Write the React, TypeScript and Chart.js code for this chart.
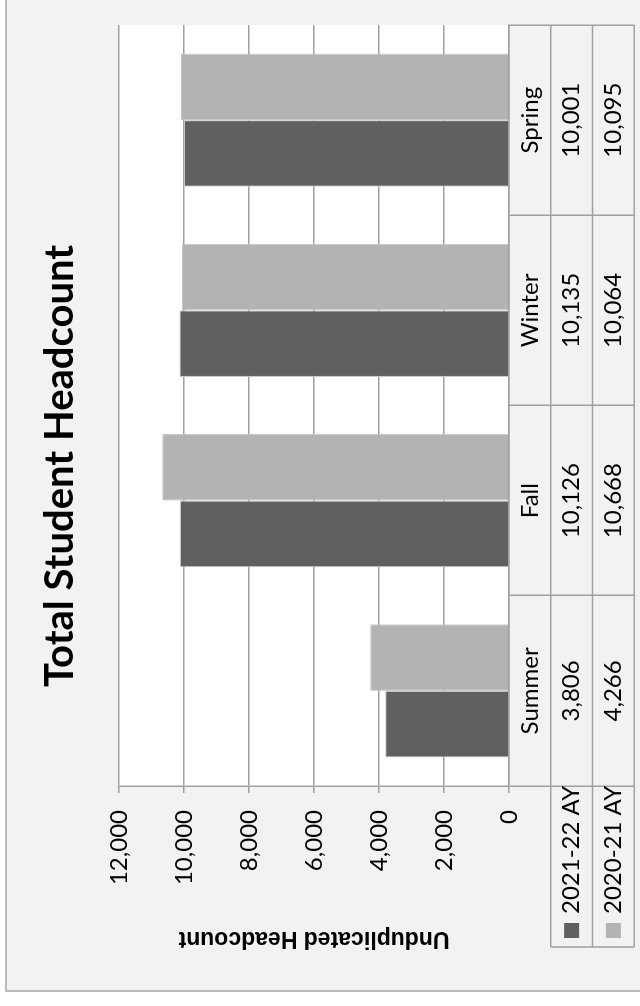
import React, { useEffect, useRef } from 'react';
import { Chart, registerables } from 'chart.js';

Chart.register(...registerables);

// ---- data ----
const CATEGORIES = ['Summer', 'Fall', 'Winter', 'Spring'];
const SERIES_NAMES = ['2021-22 AY', '2020-21 AY'];
const VALUES_2021_22 = [3806, 10126, 10135, 10001];
const VALUES_2020_21 = [4266, 10668, 10064, 10095];
const VALUE_AXIS_MIN = 0;
const VALUE_AXIS_MAX = 12000;
const VALUE_AXIS_STEP = 2000;
const TITLE = 'Total Student Headcount';
const VALUE_AXIS_TITLE = 'Unduplicated Headcount';

// ---- style ----
const W = 1006;
const H = 640;
const SERIES_COLORS = ['#606060', '#b3b3b3'];
const GRID = '#a0a0a0';
const BG = '#f2f2f2';
const TEXT_FONT = 'Lato';
const fmt = (v: number) => v.toLocaleString('en-US');

const decorPlugin = {
  id: 'excelDecor',
  beforeDraw(chart: any) {
    const { ctx, chartArea: a } = chart;
    ctx.save();
    ctx.fillStyle = '#ffffff';
    ctx.fillRect(0, 0, W, H);
    ctx.fillStyle = BG;
    ctx.fillRect(15, 6, W - 15, H - 6);
    ctx.strokeStyle = '#a6a6a6';
    ctx.lineWidth = 1.5;
    ctx.beginPath();
    ctx.moveTo(15, H);
    ctx.lineTo(15, 6);
    ctx.lineTo(W, 6);
    ctx.stroke();
    ctx.fillStyle = '#ffffff';
    ctx.fillRect(a.left, a.top, a.right - a.left, a.bottom - a.top);
    ctx.restore();
  },
  afterDraw(chart: any) {
    const { ctx, chartArea: a } = chart;
    const xs = chart.scales.x;
    ctx.save();

    // title
    ctx.fillStyle = '#000';
    ctx.font = `bold 40px ${TEXT_FONT}`;
    ctx.textAlign = 'center';
    ctx.textBaseline = 'alphabetic';
    ctx.fillText(TITLE, 540, 73);

    // value axis title (rotated)
    ctx.save();
    ctx.translate(74, (a.top + a.bottom) / 2);
    ctx.rotate(-Math.PI / 2);
    ctx.font = 'bold 23px "Liberation Sans"';
    ctx.textAlign = 'center';
    ctx.textBaseline = 'alphabetic';
    ctx.fillText(VALUE_AXIS_TITLE, 0, 0);
    ctx.restore();

    // data table
    const rowH = 41.75;
    const top = a.bottom;
    const legLeft = 59;
    ctx.strokeStyle = GRID;
    ctx.lineWidth = 1.5;
    ctx.beginPath();
    for (let r = 1; r <= 3; r++) {
      const y = top + r * rowH;
      ctx.moveTo(legLeft, y);
      ctx.lineTo(a.right, y);
    }
    ctx.moveTo(legLeft, top + rowH);
    ctx.lineTo(legLeft, top + 3 * rowH);
    ctx.stroke();

    ctx.font = `24px ${TEXT_FONT}`;
    ctx.fillStyle = '#000';
    ctx.textAlign = 'center';
    ctx.textBaseline = 'middle';
    chart.data.labels.forEach((lab: string, i: number) => {
      const cx = xs.getPixelForValue(i);
      ctx.fillText(lab, cx, top + rowH / 2);
      chart.data.datasets.forEach((ds: any, k: number) => {
        ctx.fillText(fmt(ds.data[i]), cx, top + (k + 1.5) * rowH);
      });
    });

    chart.data.datasets.forEach((ds: any, k: number) => {
      const cy = top + (k + 1.5) * rowH;
      ctx.fillStyle = ds.backgroundColor;
      ctx.fillRect(68, cy - 7.5, 15, 15);
      ctx.fillStyle = '#000';
      ctx.textAlign = 'left';
      ctx.fillText(ds.label, 92, cy);
    });

    ctx.restore();
  },
};

export default function App() {
  const ref = useRef<HTMLCanvasElement>(null);

  useEffect(() => {
    const canvas = ref.current;
    if (!canvas) return;
    const chart = new Chart(canvas, {
      type: 'bar',
      data: {
        labels: CATEGORIES,
        datasets: [
          {
            label: SERIES_NAMES[0],
            data: VALUES_2021_22,
            backgroundColor: SERIES_COLORS[0],
            borderColor: '#c8c8c8',
            borderWidth: 1,
            categoryPercentage: 0.7,
            barPercentage: 1,
          },
          {
            label: SERIES_NAMES[1],
            data: VALUES_2020_21,
            backgroundColor: SERIES_COLORS[1],
            borderColor: '#c4c4c4',
            borderWidth: 1,
            categoryPercentage: 0.7,
            barPercentage: 1,
          },
        ],
      },
      options: {
        responsive: false,
        animation: false,
        layout: { padding: { top: 119, right: 25, bottom: 0, left: 0 } },
        plugins: {
          legend: { display: false },
          title: { display: false },
          tooltip: { enabled: false },
        },
        scales: {
          x: {
            type: 'category',
            offset: true,
            grid: {
              offset: true,
              drawOnChartArea: false,
              drawTicks: true,
              tickLength: 125,
              color: GRID,
              lineWidth: 1.5,
            },
            border: { display: true, color: GRID, width: 1.5 },
            ticks: { display: false },
            afterFit: (s: any) => {
              s.height = 131;
            },
          },
          y: {
            min: VALUE_AXIS_MIN,
            max: VALUE_AXIS_MAX,
            ticks: {
              stepSize: VALUE_AXIS_STEP,
              callback: (v: any) => fmt(Number(v)),
              font: { family: TEXT_FONT, size: 24 },
              color: '#000',
              padding: 17,
            },
            grid: { color: GRID, lineWidth: 1.5, tickLength: 7 },
            border: { display: true, color: GRID, width: 1.5 },
            afterFit: (s: any) => {
              s.width = 220;
            },
          },
        },
      } as any,
      plugins: [decorPlugin],
    });
    let alive = true;
    if ((document as any).fonts && (document as any).fonts.ready) {
      (document as any).fonts.ready.then(() => {
        if (alive) chart.draw();
      });
    }
    return () => {
      alive = false;
      chart.destroy();
    };
  }, []);

  return (
    <div
      style={{
        position: 'fixed',
        left: 0,
        top: 0,
        width: W,
        height: H,
        transformOrigin: '0 0',
        transform: `translate(0px, ${W}px) rotate(-90deg)`,
      }}
    >
      <canvas ref={ref} width={W} height={H} style={{ display: 'block', width: W, height: H }} />
    </div>
  );
}
